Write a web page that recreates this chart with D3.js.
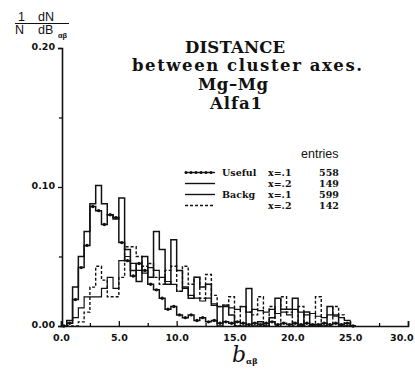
<!DOCTYPE html>
<html>
<head>
<meta charset="utf-8">
<script src="https://cdn.jsdelivr.net/npm/d3@7"></script>
<style>
  body { margin: 0; background: #fff; }
  svg { display: block; }
</style>
</head>
<body>
<svg id="chart" width="415" height="370"></svg>
<script>
// bin width 0.5 in b_ab, bins start at 0
const binWidth = 0.5;

// Useful x=.1 (558 entries) - solid with dots
const useful1 = [0.000,0.002,0.019,0.042,0.058,0.086,0.083,0.073,0.080,0.078,
  0.060,0.047,0.036,0.045,0.040,0.030,0.026,0.020,0.012,0.014,
  0.008,0.006,0.008,0.004,0.006,0.003,0.004,0.002,0.003,0.002,
  0.003,0.002,0.001,0.002,0.001,0.002,0.003,0.001,0.002,0.001,
  0.002,0.001,0.002,0.001,0.001,0.002,0.001,0.002,0.001,0.002,0.000];

// Useful x=.2 (149 entries) - solid
const useful2 = [0.000,0.004,0.028,0.050,0.068,0.088,0.101,0.088,0.080,0.077,
  0.092,0.055,0.040,0.032,0.050,0.035,0.068,0.055,0.030,0.062,
  0.040,0.028,0.020,0.035,0.028,0.030,0.015,0.000,0.014,0.008,
  0.000,0.000,0.027,0.000,0.003,0.000,0.006,0.020,0.012,0.012,
  0.020,0.000,0.010,0.000,0.000,0.000,0.014,0.008,0.000,0.000,0.000];

// Backg x=.1 (599 entries) - solid
const backg1 = [0.000,0.002,0.006,0.013,0.021,0.021,0.021,0.027,0.035,0.027,
  0.047,0.050,0.045,0.040,0.038,0.042,0.040,0.035,0.032,0.030,
  0.025,0.027,0.022,0.020,0.018,0.020,0.016,0.014,0.015,0.013,
  0.012,0.014,0.010,0.012,0.011,0.010,0.012,0.009,0.010,0.008,
  0.012,0.010,0.008,0.009,0.007,0.006,0.008,0.007,0.006,0.004,0.000];

// Backg x=.2 (142 entries) - dashed
const backg2 = [0.000,0.000,0.000,0.003,0.010,0.028,0.043,0.033,0.021,0.021,
  0.035,0.057,0.057,0.050,0.043,0.045,0.035,0.030,0.040,0.043,
  0.025,0.043,0.030,0.035,0.020,0.037,0.022,0.014,0.015,0.021,
  0.000,0.014,0.010,0.008,0.021,0.000,0.014,0.000,0.021,0.010,
  0.000,0.014,0.000,0.000,0.021,0.000,0.000,0.014,0.008,0.000,0.000];

const xTicks = [0, 5, 10, 15, 20, 25, 30];
const yTicks = [0, 0.10, 0.20];

const legendRows = [
  {group: "Useful", cut: "x=.1", entries: "558", style: "dots"},
  {group: "",       cut: "x=.2", entries: "149", style: "solid"},
  {group: "Backg",  cut: "x=.1", entries: "599", style: "solid"},
  {group: "",       cut: "x=.2", entries: "142", style: "dashed"}
];

const titleLines = ["DISTANCE", "between cluster axes.", "Mg\u2013Mg", "Alfa1"];

const svg = d3.select("#chart");
const ink = "#111";

const x = d3.scaleLinear().domain([0, 30]).range([61, 408]);
const y = d3.scaleLinear().domain([0, 0.2]).range([326, 48]);

const toPoints = vals => {
  const pts = vals.map((v, i) => [i * binWidth, v]);
  pts.push([vals.length * binWidth, 0]);
  return pts;
};

const step = d3.line()
  .x(d => x(d[0]))
  .y(d => y(d[1]))
  .curve(d3.curveStepAfter);

const g = svg.append("g");

// histograms
g.append("path").datum(toPoints(backg1))
  .attr("d", step).attr("fill", "none").attr("stroke", ink).attr("stroke-width", 1.2);
g.append("path").datum(toPoints(backg2))
  .attr("d", step).attr("fill", "none").attr("stroke", ink).attr("stroke-width", 1.4)
  .attr("stroke-dasharray", "3,2");
g.append("path").datum(toPoints(useful2))
  .attr("d", step).attr("fill", "none").attr("stroke", ink).attr("stroke-width", 1.5);
g.append("path").datum(toPoints(useful1))
  .attr("d", step).attr("fill", "none").attr("stroke", ink).attr("stroke-width", 1.5);
g.selectAll("circle.u1")
  .data(useful1)
  .enter()
  .append("circle")
  .attr("class", "u1")
  .attr("cx", (d, i) => x(i * binWidth + binWidth / 2))
  .attr("cy", d => y(d))
  .attr("r", 1.7)
  .attr("fill", ink);

// y axis
const yAxisG = svg.append("g")
  .attr("transform", `translate(${x(0) + 1}, 0)`)
  .call(d3.axisLeft(y).tickValues(yTicks).tickFormat(d3.format(".2f")).tickSize(4).tickPadding(3));
svg.append("g")
  .attr("transform", `translate(${x(0) + 1}, 0)`)
  .call(d3.axisLeft(y).tickValues([0.05, 0.15]).tickFormat("").tickSize(3))
  .select(".domain").remove();

// x axis, ticks pointing up
const xAxisG = svg.append("g")
  .attr("transform", `translate(0, ${y(0)})`)
  .call(d3.axisBottom(x).tickValues(xTicks).tickFormat(d3.format(".1f")).tickSize(-5).tickPadding(8));
svg.append("g")
  .attr("transform", `translate(0, ${y(0)})`)
  .call(d3.axisBottom(x).tickValues(d3.range(2.5, 30, 5)).tickFormat("").tickSize(-3))
  .select(".domain").remove();

svg.selectAll(".domain").attr("stroke", ink).attr("stroke-width", 1.6);
svg.selectAll(".tick line").attr("stroke", ink).attr("stroke-width", 1.3);
svg.selectAll(".tick text")
  .attr("fill", ink)
  .style("font-family", "'DejaVu Sans', sans-serif")
  .style("font-size", "9.5px")
  .style("font-weight", "bold");
yAxisG.selectAll(".tick text").attr("dy", "0.2em");
// last label sits at the page edge; keep it inside
xAxisG.selectAll(".tick text").filter(d => d === 30).attr("text-anchor", "end").attr("dx", 5);

// y axis label: 1/N dN/dB_ab
const yl = svg.append("g").attr("fill", ink)
  .style("font-family", "'Liberation Sans', sans-serif");
yl.append("text").attr("x", 18).attr("y", 20.5).style("font-size", "12.5px").text("1");
yl.append("text").attr("x", 38).attr("y", 20.5).style("font-size", "12.5px").text("dN");
yl.append("line").attr("x1", 15).attr("x2", 69).attr("y1", 23.5).attr("y2", 23.5)
  .attr("stroke", ink).attr("stroke-width", 1.1);
yl.append("text").attr("x", 15).attr("y", 34).style("font-size", "12.5px").text("N");
yl.append("text").attr("x", 38).attr("y", 34).style("font-size", "12.5px").text("dB");
yl.append("text").attr("x", 58).attr("y", 38).style("font-size", "7.5px").style("font-weight", "bold").text("\u03b1\u03b2");

// x axis label
const xl = svg.append("text").attr("x", 232).attr("y", 362).attr("fill", ink)
  .style("font-family", "'DejaVu Serif', serif");
xl.append("tspan").style("font-size", "22px").style("font-style", "italic").text("b");
xl.append("tspan").attr("dy", 2).style("font-size", "8px").style("font-weight", "bold").text("\u03b1\u03b2");

// title, typewriter serif
const titleX = [235, 247, 233, 236];
const titleY = [53, 71, 90, 109];
const titleW = [100, 230, 70, 52];
svg.append("g").selectAll("text")
  .data(titleLines)
  .enter()
  .append("text")
  .attr("x", (d, i) => titleX[i])
  .attr("y", (d, i) => titleY[i])
  .attr("text-anchor", "middle")
  .attr("textLength", (d, i) => titleW[i])
  .attr("lengthAdjust", "spacing")
  .attr("fill", ink)
  .style("font-family", "'DejaVu Serif', serif")
  .style("font-weight", "bold")
  .style("font-size", "16.5px")
  .text(d => d);

// legend
const lg = svg.append("g");
lg.append("text").attr("x", 301).attr("y", 158).attr("fill", ink)
  .style("font-family", "'Liberation Sans', sans-serif").style("font-size", "12.5px").text("entries");

const rowY = i => 172.5 + i * 11;
legendRows.forEach((r, i) => {
  const yy = rowY(i);
  lg.append("line").attr("x1", 185).attr("x2", 215).attr("y1", yy).attr("y2", yy)
    .attr("stroke", ink).attr("stroke-width", 1.4)
    .attr("stroke-dasharray", r.style === "dashed" ? "3,2" : null);
  if (r.style === "dots") {
    lg.selectAll(null).data(d3.range(186, 216, 5)).enter().append("circle")
      .attr("cx", d => d).attr("cy", yy).attr("r", 1.5).attr("fill", ink);
  }
  const tx = lg.append("g").attr("fill", ink)
    .style("font-family", "'DejaVu Serif', serif")
    .style("font-weight", "bold").style("font-size", "9.5px");
  tx.append("text").attr("x", 222).attr("y", yy + 3.5).text(r.group);
  tx.append("text").attr("x", 268).attr("y", yy + 3.5).text(r.cut);
  tx.append("text").attr("x", 329).attr("y", yy + 3.5).attr("text-anchor", "middle").text(r.entries);
});
</script>
</body>
</html>
